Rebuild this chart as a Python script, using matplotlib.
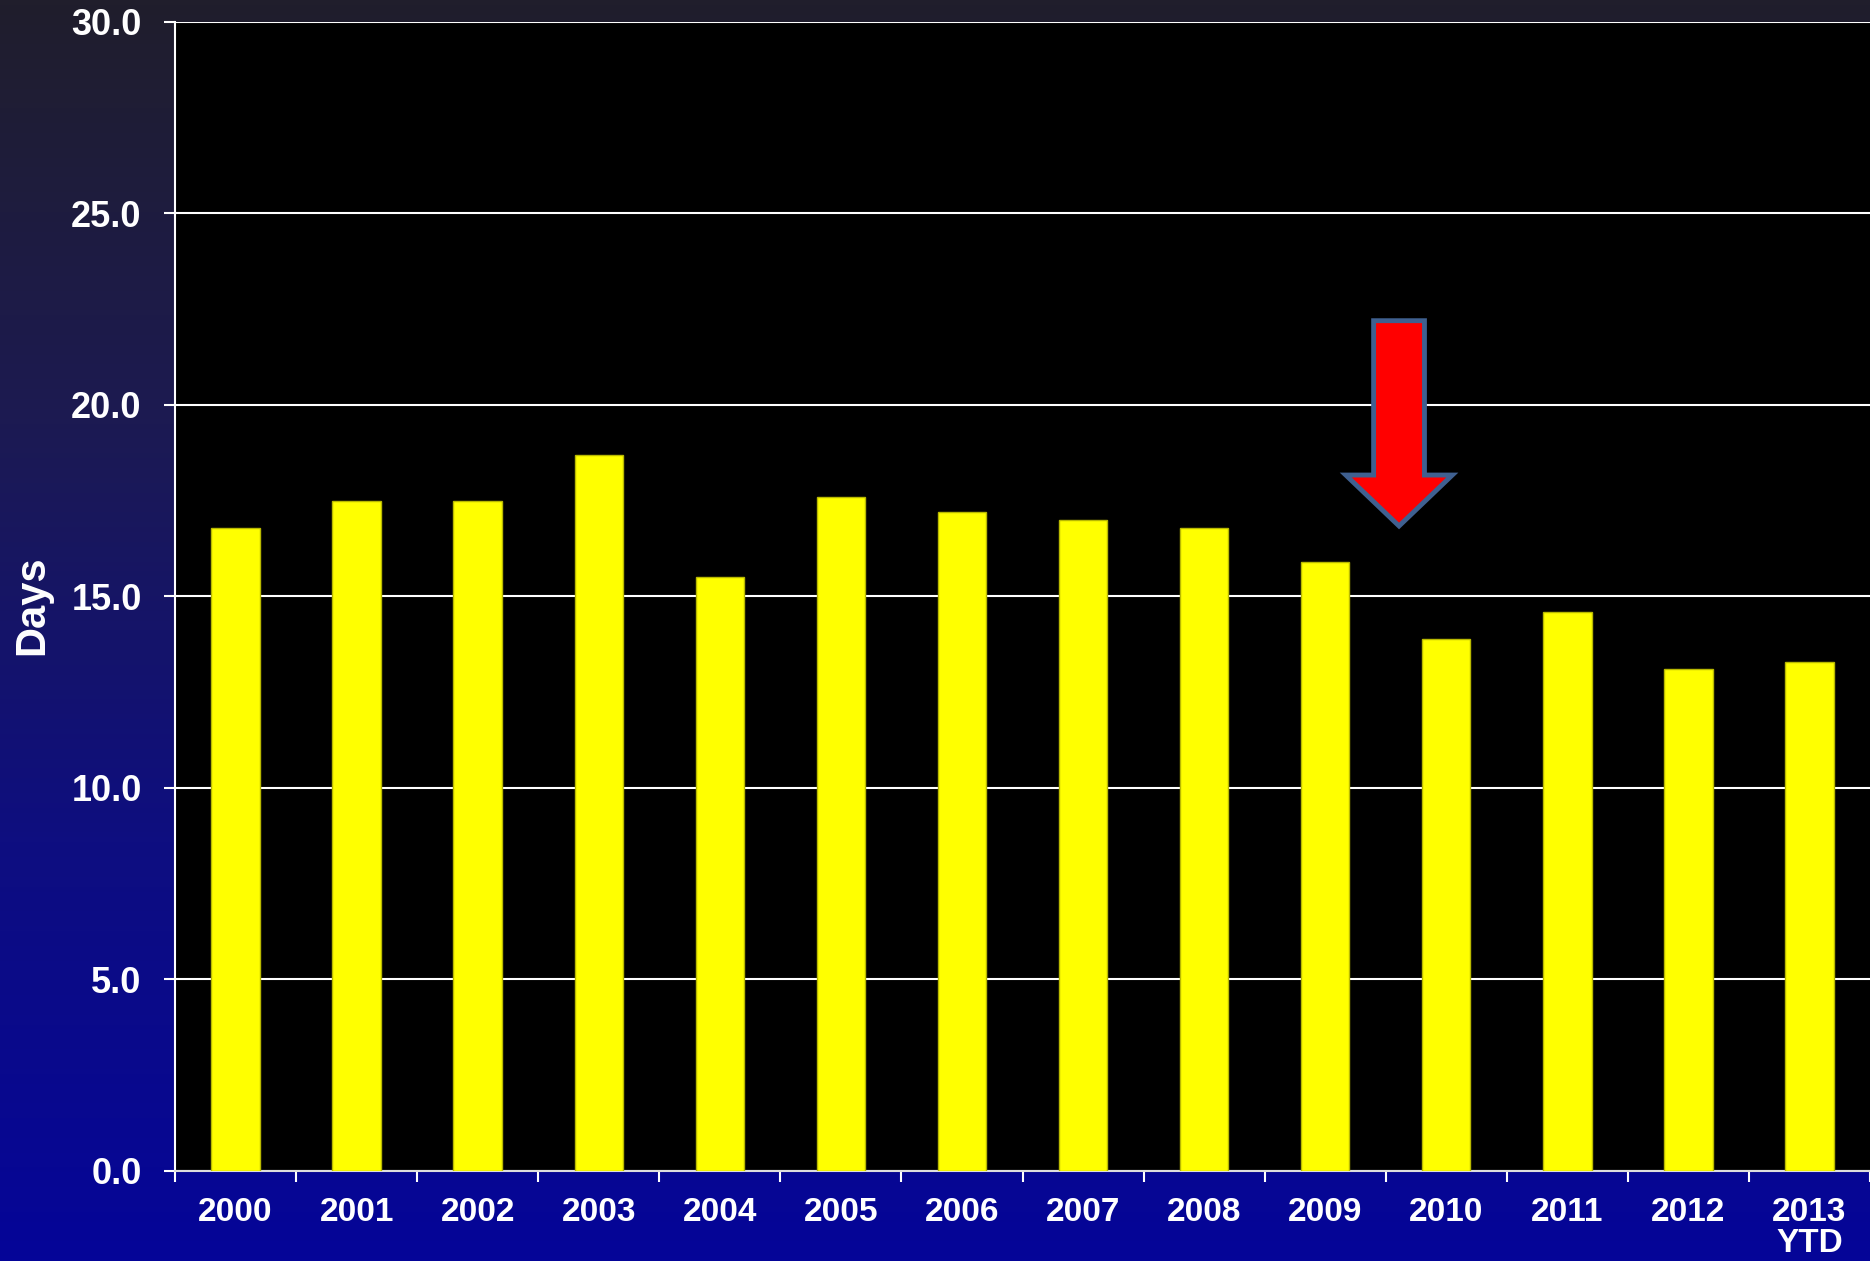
"""
Average length of stay by year, slide-style bar chart.
"""

# ==========================================================
# Import Libraries
# ==========================================================

import numpy as np
import matplotlib.pyplot as plt
from matplotlib.colors import LinearSegmentedColormap
from matplotlib.patches import Polygon


# ==========================================================
# Data
# ==========================================================

years = ["2000", "2001", "2002", "2003", "2004", "2005", "2006",
         "2007", "2008", "2009", "2010", "2011", "2012", "2013\nYTD"]

days = [16.8, 17.5, 17.5, 18.7, 15.5, 17.6, 17.2,
        17.0, 16.8, 15.9, 13.9, 14.6, 13.1, 13.3]

y_ticks = [0, 5, 10, 15, 20, 25, 30]


# ==========================================================
# Figure and background
# ==========================================================

plt.rcParams["font.family"] = ["Liberation Sans", "DejaVu Sans"]
plt.rcParams["font.weight"] = "bold"

fig = plt.figure(figsize=(18.7, 12.61), dpi=100)

bg_ax = fig.add_axes([0, 0, 1, 1], zorder=0)
bg_cmap = LinearSegmentedColormap.from_list(
    "slide_bg", ["#201E2C", "#1C1A52", "#0E0E80", "#050598"]
)
gradient = np.linspace(0, 1, 256).reshape(-1, 1)
bg_ax.imshow(gradient, aspect="auto", cmap=bg_cmap,
             extent=[0, 1, 0, 1], origin="upper")
bg_ax.axis("off")

ax = fig.add_axes([0.0936, 0.0714, 0.9064, 0.9112], zorder=1)
ax.set_facecolor("black")


# ==========================================================
# Bars
# ==========================================================

x = np.arange(len(years))

ax.bar(
    x,
    days,
    width=0.4,
    color="#FFFF00",
    edgecolor="#B8B800",
    linewidth=1,
    zorder=3
)


# ==========================================================
# Axes styling
# ==========================================================

ax.set_xlim(-0.5, len(years) - 0.5)
ax.set_ylim(0, 30)

ax.set_yticks(y_ticks)
ax.set_yticklabels([f"{v:.1f}" for v in y_ticks])

ax.set_xticks(x)
ax.set_xticklabels(years, linespacing=1.0)
ax.set_xticks(np.arange(len(years) + 1) - 0.5, minor=True)

ax.tick_params(axis="y", colors="white", labelsize=26, length=8,
               width=1.5, pad=16)
ax.tick_params(axis="x", which="major", colors="white", labelsize=24,
               length=0, pad=19)
ax.tick_params(axis="x", which="minor", colors="white", length=8,
               width=1.5, direction="out")

for label in ax.get_xticklabels() + ax.get_yticklabels():
    label.set_fontweight("bold")

ax.grid(axis="y", color="white", linewidth=1.5, zorder=1)
ax.set_axisbelow(True)

ax.spines["top"].set_visible(False)
ax.spines["right"].set_visible(False)
ax.spines["left"].set_color("white")
ax.spines["left"].set_linewidth(1.5)
ax.spines["bottom"].set_color("#DDDDDD")
ax.spines["bottom"].set_linewidth(1.5)

fig.text(0.017, 0.52, "Days", rotation=90, color="white",
         fontsize=30, fontweight="bold", ha="center", va="center")


# ==========================================================
# Red arrow marking the drop after 2009
# ==========================================================

arrow_x = 9.61
arrow_top = 22.2
arrow_neck = 18.17
arrow_tip = 16.84
shaft_half = 0.21
head_half = 0.44

arrow = Polygon(
    [
        (arrow_x - shaft_half, arrow_top),
        (arrow_x + shaft_half, arrow_top),
        (arrow_x + shaft_half, arrow_neck),
        (arrow_x + head_half, arrow_neck),
        (arrow_x, arrow_tip),
        (arrow_x - head_half, arrow_neck),
        (arrow_x - shaft_half, arrow_neck),
    ],
    closed=True,
    facecolor="#FF0000",
    edgecolor="#3F6090",
    linewidth=3.5,
    joinstyle="miter",
    zorder=5
)
ax.add_patch(arrow)


# ==========================================================
# Save
# ==========================================================

fig.savefig("out.png", dpi=100)
plt.close(fig)
